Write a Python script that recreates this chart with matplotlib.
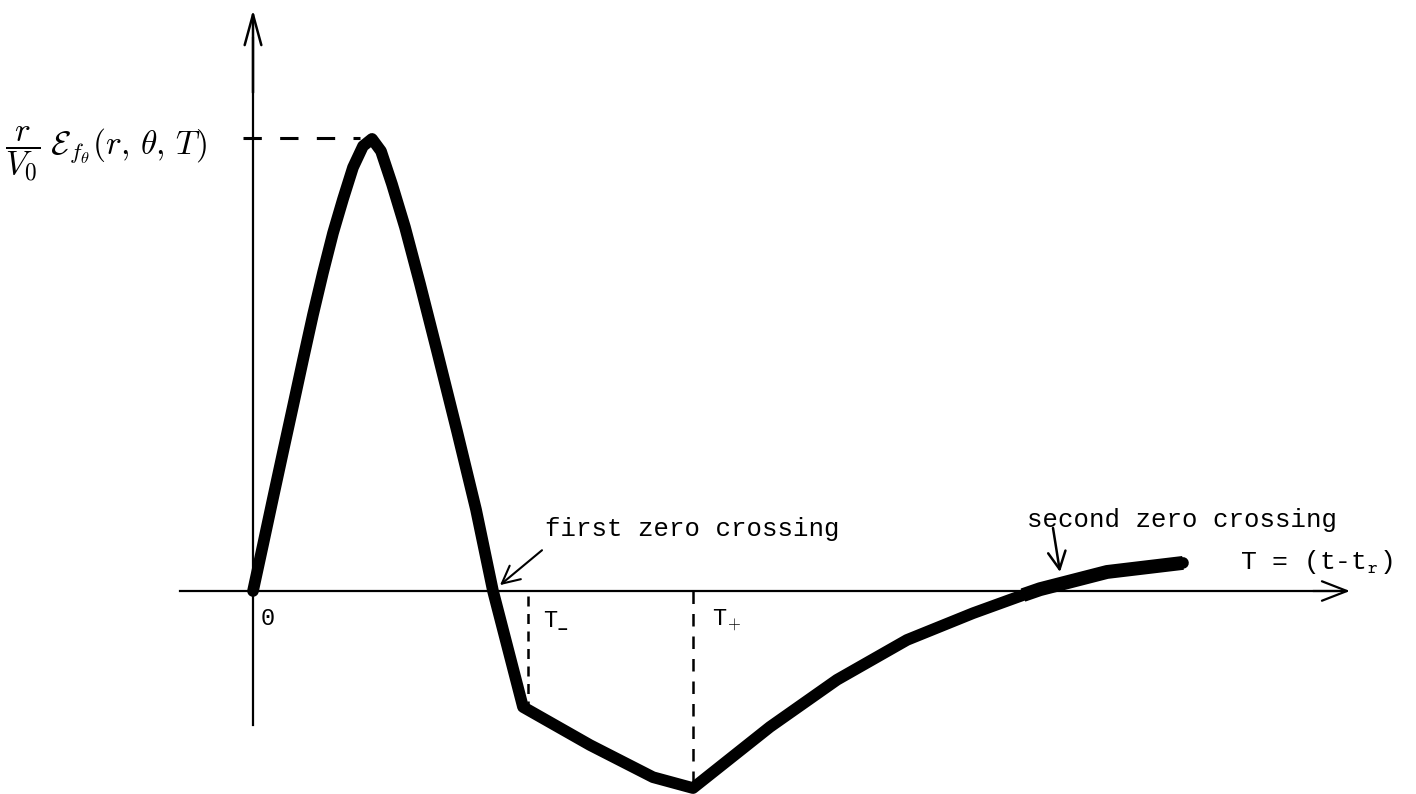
import matplotlib
matplotlib.use("Agg")
import matplotlib.pyplot as plt
from matplotlib.patches import FancyArrowPatch

plt.rcParams["mathtext.fontset"] = "cm"

# Normalised field waveform versus retarded time T
T = [0.00, 0.10, 0.20, 0.30, 0.40, 0.50, 0.60, 0.70, 0.80, 0.90, 1.00, 1.10,
     1.19, 1.28, 1.39, 1.52, 1.67, 1.84, 2.04, 2.23, 2.40, 2.70, 3.37, 4.00,
     4.40, 5.17, 5.84, 6.54, 7.20, 7.70, 7.87, 8.54, 9.30]
E = [0.000, 0.102, 0.205, 0.307, 0.408, 0.510, 0.610, 0.703, 0.790, 0.865,
     0.935, 0.982, 0.998, 0.971, 0.898, 0.803, 0.678, 0.530, 0.353, 0.180,
     0.000, -0.256, -0.340, -0.411, -0.435, -0.300, -0.196, -0.108, -0.049,
     -0.009, 0.004, 0.042, 0.062]

T_peak, E_peak = 1.19, 1.00
T_minus, E_minus = 2.75, -0.262
T_plus, E_plus = 4.40, -0.435
T_zero1 = 2.40
T_zero2 = 8.07

fig = plt.figure(figsize=(14.16, 7.94), dpi=100)
ax = fig.add_axes([0, 0, 1, 1])
ax.set_xlim(-2.53, 11.63)
ax.set_ylim(-0.4481, 1.3046)
ax.axis("off")

mono = "Liberation Mono"
ink = "black"

# axes with arrowheads
ax.plot([-0.73, 10.85], [0, 0], color=ink, lw=1.6)
ax.add_patch(FancyArrowPatch((10.6, 0), (10.97, 0),
                             arrowstyle="->,head_length=0.9,head_width=0.35",
                             color=ink, lw=1.6, mutation_scale=20,
                             shrinkA=0, shrinkB=0))
ax.plot([0, 0], [-0.296, 1.22], color=ink, lw=1.6)
ax.add_patch(FancyArrowPatch((0, 1.1), (0, 1.283),
                             arrowstyle="->,head_length=1.1,head_width=0.3",
                             color=ink, lw=1.8, mutation_scale=20,
                             shrinkA=0, shrinkB=0))

# dashed guide lines
ax.plot([-0.1, T_peak - 0.12], [E_peak, E_peak], color=ink, lw=2.2,
        dashes=(6, 6))
ax.plot([T_minus, T_minus], [-0.011, E_minus + 0.005], color=ink, lw=1.8,
        dashes=(4, 3))
ax.plot([T_plus, T_plus], [0, E_plus], color=ink, lw=1.8, dashes=(5, 4))

# waveform
ax.plot(T, E, color=ink, lw=8.4, solid_joinstyle="round",
        solid_capstyle="round")
tail = [i for i, t in enumerate(T) if t >= 7.7]
ax.plot([T[i] for i in tail], [E[i] for i in tail], color=ink, lw=10,
        solid_joinstyle="round", solid_capstyle="butt")

# labels
ax.text(-2.48, 0.965,
        r"$\dfrac{r}{V_0}\;\mathcal{E}_{f_\theta}(r,\,\theta,\,T)$",
        fontsize=24, ha="left", va="center")
ax.text(0.15, -0.06, "0", family=mono, fontsize=17, ha="center",
        va="center")
ax.text(T_minus + 0.15, -0.065, "T", family=mono, fontsize=17, ha="left",
        va="center")
ax.text(T_minus + 0.29, -0.085, "\u2013", family=mono, fontsize=14,
        ha="left", va="center", fontweight="bold")
ax.text(T_plus + 0.19, -0.065, r"T$_{\mathtt{+}}$", family=mono,
        fontsize=17, ha="left", va="center")
ax.text(9.87, 0.064, r"T = (t-t$_{\mathtt{r}}$)", family=mono, fontsize=19,
        ha="left", va="center")

ax.text(2.92, 0.137, "first zero crossing", family=mono, fontsize=18.5,
        ha="left", va="center")
ax.annotate("", xy=(T_zero1 + 0.07, 0.013), xytext=(2.89, 0.090),
            arrowprops=dict(arrowstyle="->,head_length=0.7,head_width=0.35",
                            color=ink, lw=1.5, mutation_scale=18,
                            shrinkA=0, shrinkB=0))
ax.text(7.74, 0.157, "second zero crossing", family=mono, fontsize=18.5,
        ha="left", va="center")
ax.annotate("", xy=(T_zero2, 0.042), xytext=(8.0, 0.139),
            arrowprops=dict(arrowstyle="->,head_length=0.7,head_width=0.35",
                            color=ink, lw=1.8, mutation_scale=18,
                            shrinkA=0, shrinkB=0))

fig.savefig("out.png", dpi=100, facecolor="white")
